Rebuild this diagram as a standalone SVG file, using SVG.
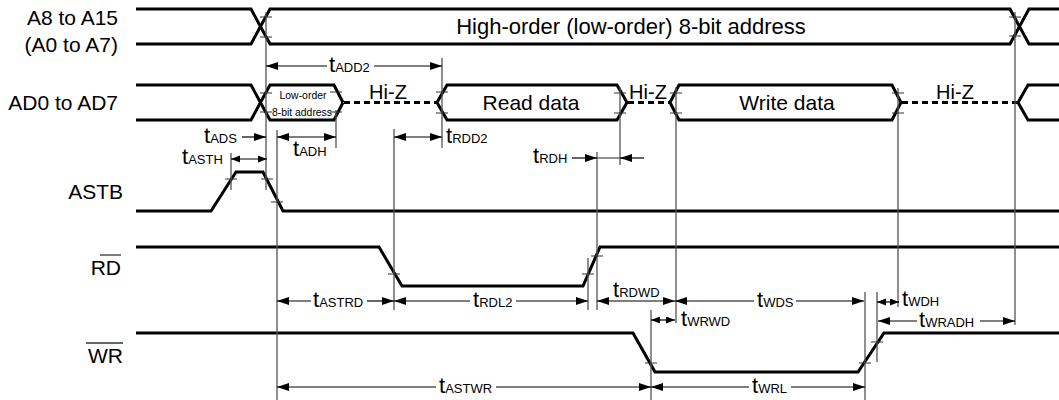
<svg xmlns="http://www.w3.org/2000/svg" width="1059" height="400" viewBox="0 0 1059 400">
<defs>
<style>
text{font-family:"Liberation Sans",Arial,sans-serif;fill:#000}
.lbl{font-size:21px}
.hz{font-size:20px}
.sig{fill:none;stroke:#000;stroke-width:3;stroke-linejoin:miter}
.dash{fill:none;stroke:#000;stroke-width:3;stroke-dasharray:6,4}
.ref{fill:none;stroke:#555;stroke-width:1.3}
.tick{fill:none;stroke:#333;stroke-width:1.2}
.arr{fill:none;stroke:#000;stroke-width:1.2;marker-end:url(#ah)}
.dbl{fill:none;stroke:#000;stroke-width:1.2;marker-start:url(#ah);marker-end:url(#ah)}
.dbs{fill:none;stroke:#000;stroke-width:1.2;marker-start:url(#as);marker-end:url(#as)}
.t{font-size:22px}
.s{font-size:13px}
.small{font-size:11px}
</style>
<marker id="ah" markerUnits="userSpaceOnUse" markerWidth="13" markerHeight="8" refX="12" refY="4" orient="auto-start-reverse"><path d="M0,0 L12,4 L0,8 z" fill="#000"/></marker>
<marker id="as" markerUnits="userSpaceOnUse" markerWidth="10" markerHeight="8" refX="9" refY="3.5" orient="auto-start-reverse"><path d="M0,0 L9,3.5 L0,7 z" fill="#000"/></marker>
</defs>
<rect width="1059" height="400" fill="#fff"/>

<g id="addr-high">
<text class="lbl" x="118" y="25" text-anchor="end">A8 to A15</text>
<text class="lbl" x="118" y="52" text-anchor="end">(A0 to A7)</text>
<path class="sig" d="M136,9 H251 L270,44 H1010 L1029,9 H1059"/>
<path class="sig" d="M136,44 H251 L270,9 H1010 L1029,44 H1059"/>
<text x="631" y="34" text-anchor="middle" font-size="22">High-order (low-order) 8-bit address</text>
</g>

<g id="ad-bus">
<text class="lbl" x="118" y="110" text-anchor="end">AD0 to AD7</text>
<path class="sig" d="M136,85 H251 L270,120 H334 L343,102.5"/>
<path class="sig" d="M136,120 H251 L270,85 H334 L343,102.5"/>
<text class="small" x="303" y="99" text-anchor="middle" textLength="47" lengthAdjust="spacingAndGlyphs">Low-order</text>
<text class="small" x="302" y="116" text-anchor="middle" textLength="60" lengthAdjust="spacingAndGlyphs">8-bit address</text>
<path class="dash" d="M344,102.5 H437"/>
<text class="hz" x="388" y="99" text-anchor="middle">Hi-Z</text>
<path class="sig" d="M437,102.5 L447,85 H617 L627,102.5 L617,120 H447 Z"/>
<text class="lbl" x="531" y="110" text-anchor="middle">Read data</text>
<path class="dash" d="M628,102.5 H670"/>
<text class="hz" x="648" y="99" text-anchor="middle">Hi-Z</text>
<path class="sig" d="M670,102.5 L679,85 H892 L901,102.5 L892,120 H679 Z"/>
<text class="lbl" x="787" y="110" text-anchor="middle">Write data</text>
<path class="dash" d="M902,102.5 H1018"/>
<text class="hz" x="955" y="99" text-anchor="middle">Hi-Z</text>
<path class="sig" d="M1059,85 H1028 L1018,102.5 L1028,120 H1059"/>
</g>

<g id="astb">
<text class="lbl" x="123" y="199" text-anchor="end">ASTB</text>
<path class="sig" d="M136,211 H211 L236,172 H263 L283,211 H1059"/>
</g>

<g id="rd">
<text class="lbl" x="121" y="275" text-anchor="end">RD</text>
<line x1="100" y1="255" x2="121" y2="255" stroke="#333" stroke-width="1.3"/>
<path class="sig" d="M136,247 H379 L402,286 H583 L600,247 H1059"/>
</g>

<g id="wr">
<text class="lbl" x="123" y="363" text-anchor="end">WR</text>
<line x1="86" y1="343" x2="123" y2="343" stroke="#333" stroke-width="1.3"/>
<path class="sig" d="M136,333 H633 L655,372 H858 L884,333 H1059"/>
</g>

<g id="connectors">
<path class="ref" d="M266,12 V190 M277,130 V400 M231,153 V190 M336,110 V148 M442,58 V148 M394,129 V310 M597,152 V310 M588,258 V310 M620,87 V165 M676,87 V323 M898,88 V307 M1015,12 V325 M651,310 V400 M865,292 V400 M877,292 V362"/>
<path class="tick" d="M260,17 H272 M260,37 H272 M1009,17 H1021 M1009,36 H1021 M260,93 H272 M260,112 H272 M330,92 H342 M330,112 H342 M436,92 H448 M436,113 H448 M614,93 H626 M614,113 H626 M670,93 H682 M670,113 H682 M892,93 H904 M892,113 H904 M225,179 H237 M261,179 H273 M271,202 H283 M388,274 H400 M582,274 H594 M591,256 H603 M645,363 H657 M859,363 H871 M871,342 H883"/>

<path class="arr" d="M327,66 H266"/><path class="arr" d="M374,66 H442"/>
<text x="329" y="72"><tspan class="t">t</tspan><tspan class="s">ADD2</tspan></text>

<path class="arr" d="M242,137 H266"/>
<text x="204" y="143"><tspan class="t">t</tspan><tspan class="s">ADS</tspan></text>
<path class="dbl" d="M277,137 H336"/>
<text x="293" y="156"><tspan class="t">t</tspan><tspan class="s">ADH</tspan></text>
<path class="dbs" d="M231,159 H267"/>
<text x="182" y="164"><tspan class="t">t</tspan><tspan class="s">ASTH</tspan></text>

<path class="dbl" d="M394,137 H442"/>
<text x="446" y="143"><tspan class="t">t</tspan><tspan class="s">RDD2</tspan></text>

<path class="arr" d="M572,158 H597"/><path class="ref" d="M597,158 H620"/><path class="arr" d="M644,158 H620"/>
<text x="533" y="163"><tspan class="t">t</tspan><tspan class="s">RDH</tspan></text>

<path class="arr" d="M311,301 H277"/><path class="arr" d="M367,301 H394"/>
<text x="313" y="307"><tspan class="t">t</tspan><tspan class="s">ASTRD</tspan></text>
<path class="arr" d="M470,301 H394"/><path class="arr" d="M516,301 H588"/>
<text x="473" y="307"><tspan class="t">t</tspan><tspan class="s">RDL2</tspan></text>
<path class="dbl" d="M597,301 H675"/>
<text x="613" y="297"><tspan class="t">t</tspan><tspan class="s">RDWD</tspan></text>
<path class="arr" d="M754,301 H675"/><path class="arr" d="M796,301 H864"/>
<text x="757" y="307"><tspan class="t">t</tspan><tspan class="s">WDS</tspan></text>
<path class="dbs" d="M877,302 H899"/>
<text x="902" y="306"><tspan class="t">t</tspan><tspan class="s">WDH</tspan></text>

<path class="dbs" d="M651,320 H675"/>
<text x="681" y="326"><tspan class="t">t</tspan><tspan class="s">WRWD</tspan></text>
<path class="arr" d="M917,321 H878"/><path class="arr" d="M980,321 H1015"/>
<text x="919" y="327"><tspan class="t">t</tspan><tspan class="s">WRADH</tspan></text>

<path class="arr" d="M436,387 H277"/><path class="arr" d="M496,387 H651"/>
<text x="439" y="393"><tspan class="t">t</tspan><tspan class="s">ASTWR</tspan></text>
<path class="arr" d="M749,387 H651"/><path class="arr" d="M791,387 H865"/>
<text x="752" y="393"><tspan class="t">t</tspan><tspan class="s">WRL</tspan></text>
</g>
</svg>
